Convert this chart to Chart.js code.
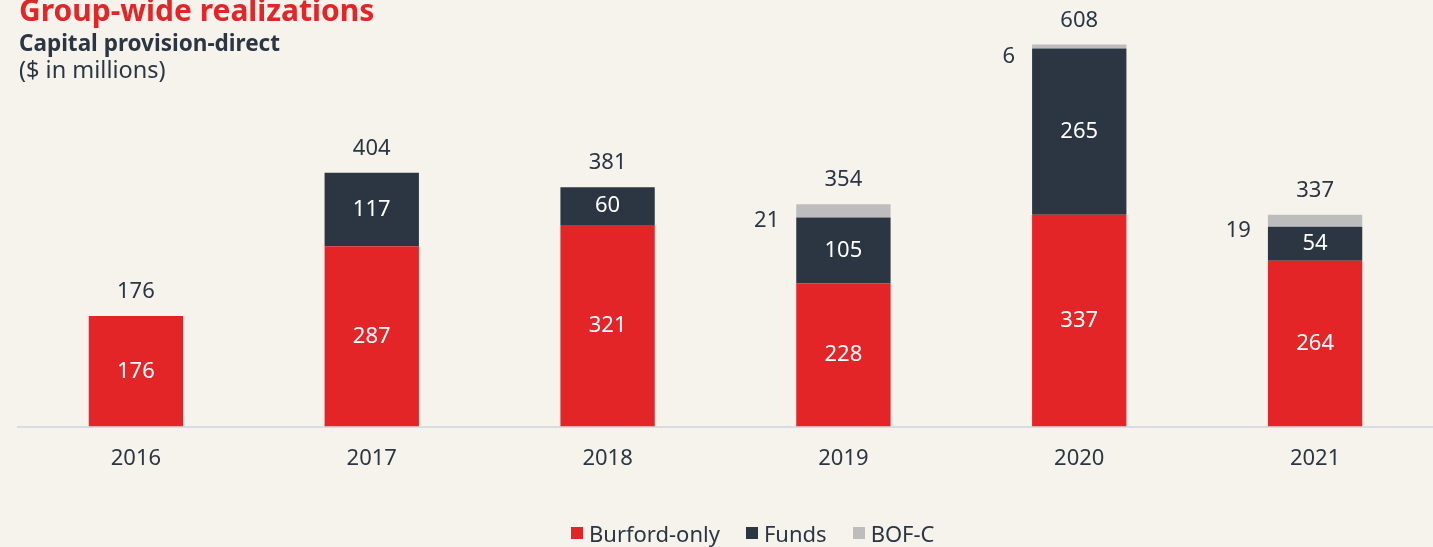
<!DOCTYPE html>
<html lang="en">
  <head>
    <meta charset="UTF-8" />
    <title>Group-wide realizations</title>
    <style>
      html, body { margin: 0; padding: 0; background: #f5f3ec; }
      body { width: 1433px; height: 547px; position: relative; overflow: hidden; font-family: 'Noto Sans', sans-serif; color: #2b3642; }
      #chart { position: absolute; left: 0; top: 0; width: 1433px; height: 547px; }
      .title, .sub, .unit { position: absolute; left: 19px; line-height: 1; white-space: nowrap; }
      .title { top: -5px; font-size: 30px; font-weight: bold; color: #e42528; }
      .sub { top: 32px; font-size: 22.5px; font-weight: bold; }
      .unit { top: 58px; font-size: 23.5px; }
      #legend { position: absolute; left: 571px; top: 518px; display: flex; align-items: center; font-size: 22px; white-space: nowrap; }
      #legend span.box { display: inline-block; width: 12px; height: 12px; margin-right: 6px; }
      #legend span.item { display: inline-flex; align-items: center; margin-right: 26px; }
    </style>
  </head>
  <body>
    <div id="chart"><canvas id="c" width="1433" height="547"></canvas></div>
    <div class="title">Group-wide realizations</div>
    <div class="sub">Capital provision-direct</div>
    <div class="unit">($ in millions)</div>
    <div id="legend"></div>
    <script src="https://cdn.jsdelivr.net/npm/chart.js"></script>
    <script>
      const years = ['2016', '2017', '2018', '2019', '2020', '2021'];
      const burfordOnly = [176, 287, 321, 228, 337, 264];
      const funds = [0, 117, 60, 105, 265, 54];
      const bofc = [0, 0, 0, 21, 6, 19];

      const seriesNames = ['Burford-only', 'Funds', 'BOF-C'];
      const seriesColors = ['#e42528', '#2b3642', '#bdbdbd'];
      const textColor = '#2b3642';

      Chart.defaults.font.family = "'Noto Sans', sans-serif";

      const legend = document.getElementById('legend');
      seriesNames.forEach((n, i) => {
        legend.innerHTML += `<span class="item"><span class="box" style="background:${seriesColors[i]}"></span>${n}</span>`;
      });

      const barLabels = {
        id: 'barLabels',
        afterDatasetsDraw(chart) {
          const ctx = chart.ctx;
          ctx.save();
          ctx.font = "22px 'Noto Sans'";
          ctx.textBaseline = 'middle';
          chart.data.datasets.forEach((ds, i) => {
            const meta = chart.getDatasetMeta(i);
            meta.data.forEach((bar, j) => {
              const v = ds.data[j];
              if (!v) return;
              const midY = (bar.y + bar.base) / 2;
              if (i < 2) {
                ctx.fillStyle = '#ffffff';
                ctx.textAlign = 'center';
                ctx.fillText(v, bar.x, midY);
              } else {
                ctx.fillStyle = textColor;
                ctx.textAlign = 'right';
                ctx.fillText(v, bar.x - bar.width / 2 - 17, midY + 10);
              }
            });
          });
          // totals above the stack
          ctx.fillStyle = textColor;
          ctx.textAlign = 'center';
          years.forEach((y, j) => {
            let top = Infinity, total = 0, x = 0;
            chart.data.datasets.forEach((ds, i) => {
              const bar = chart.getDatasetMeta(i).data[j];
              top = Math.min(top, bar.y);
              total += ds.data[j];
              x = bar.x;
            });
            ctx.fillText(total, x, top - 24);
          });
          ctx.restore();
        }
      };

      new Chart(document.getElementById('c'), {
        type: 'bar',
        data: {
          labels: years,
          datasets: [
            { label: seriesNames[0], data: burfordOnly, backgroundColor: seriesColors[0] },
            { label: seriesNames[1], data: funds, backgroundColor: seriesColors[1] },
            { label: seriesNames[2], data: bofc, backgroundColor: seriesColors[2] },
          ],
        },
        options: {
          responsive: false,
          animation: false,
          categoryPercentage: 1,
          barPercentage: 0.4,
          layout: { padding: { left: 18, right: 0, top: 0, bottom: 56 } },
          plugins: { legend: { display: false }, tooltip: { enabled: false } },
          scales: {
            x: {
              stacked: true,
              grid: { display: false, drawTicks: false },
              border: { display: true, color: '#d8dce3', width: 2 },
              ticks: { color: textColor, font: { size: 22 }, padding: 19 },
            },
            y: {
              stacked: true,
              display: false,
              min: 0,
              max: 679,
            },
          },
        },
        plugins: [barLabels],
      });
    </script>
  </body>
</html>
